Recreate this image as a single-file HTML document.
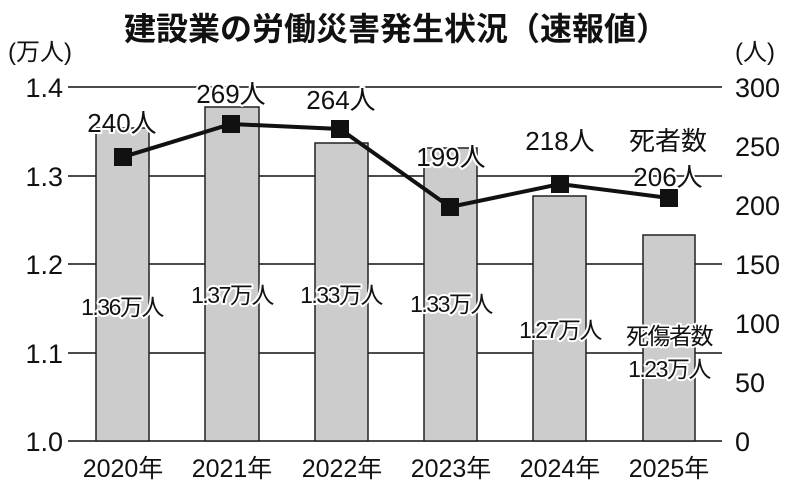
<!DOCTYPE html>
<html><head><meta charset="utf-8"><style>
html,body{margin:0;padding:0;background:#fff}
svg{display:block}
text{font-family:"Liberation Sans","Noto Sans CJK JP",sans-serif;fill:#111}
.h{stroke:#fff;stroke-width:4;paint-order:stroke;stroke-linejoin:round}
</style></head><body>
<svg width="800" height="487" viewBox="0 0 800 487" xmlns="http://www.w3.org/2000/svg">
<text x="396" y="40" font-size="32" font-weight="bold" text-anchor="middle" style="font-family:'Noto Sans CJK JP',sans-serif">建設業の労働災害発生状況（速報値）</text>
<text x="8" y="60" font-size="24">(万人)</text>
<text x="735" y="60" font-size="24">(人)</text>
<g stroke="#111" stroke-width="1.5">
<line x1="68" y1="87" x2="722" y2="87"/>
<line x1="68" y1="176" x2="722" y2="176"/>
<line x1="68" y1="264" x2="722" y2="264"/>
<line x1="68" y1="353" x2="722" y2="353"/>
<line x1="68" y1="441" x2="722" y2="441"/>
</g>
<g fill="#ccc" stroke="#222" stroke-width="1.5">
<rect x="96" y="128" width="53" height="313"/>
<rect x="205" y="107" width="54" height="334"/>
<rect x="315" y="143" width="53" height="298"/>
<rect x="424" y="148" width="53" height="293"/>
<rect x="533" y="196" width="53" height="245"/>
<rect x="643" y="235" width="52" height="206"/>
</g>
<g font-size="27" text-anchor="end">
<text x="63" y="97">1.4</text><text x="63" y="186">1.3</text><text x="63" y="274">1.2</text><text x="63" y="363">1.1</text><text x="63" y="451">1.0</text>
</g>
<g font-size="27">
<text x="735" y="97">300</text><text x="735" y="156">250</text><text x="735" y="215">200</text><text x="735" y="274">150</text><text x="735" y="333">100</text><text x="735" y="392">50</text><text x="735" y="451">0</text>
</g>
<g font-size="25" text-anchor="middle">
<text x="123" y="477">2020年</text><text x="232" y="477">2021年</text><text x="342" y="477">2022年</text><text x="451" y="477">2023年</text><text x="560" y="477">2024年</text><text x="669" y="477">2025年</text>
</g>
<polyline points="123,157 231,124 340,129 450,207 560,184 669,198" fill="none" stroke="#111" stroke-width="4"/>
<g fill="#111">
<rect x="114" y="148" width="18" height="18"/><rect x="222" y="115" width="18" height="18"/><rect x="331" y="120" width="18" height="18"/><rect x="441" y="198" width="18" height="18"/><rect x="551" y="175" width="18" height="18"/><rect x="660" y="189" width="18" height="18"/>
</g>
<g font-size="26" text-anchor="middle" class="h">
<text x="122" y="132">240人</text><text x="231" y="103">269人</text><text x="341" y="109">264人</text><text x="451" y="166">199人</text><text x="560" y="150">218人</text>
<text x="668" y="150">死者数</text><text x="668" y="186">206人</text>
</g>
<g font-size="23" text-anchor="middle" class="h" style="letter-spacing:-1.5px">
<text x="122" y="315">1.36万人</text><text x="232" y="303">1.37万人</text><text x="341" y="303">1.33万人</text><text x="451" y="312">1.33万人</text><text x="560" y="338">1.27万人</text>
<text x="669" y="344">死傷者数</text><text x="669" y="377">1.23万人</text>
</g>
</svg>
</body></html>
